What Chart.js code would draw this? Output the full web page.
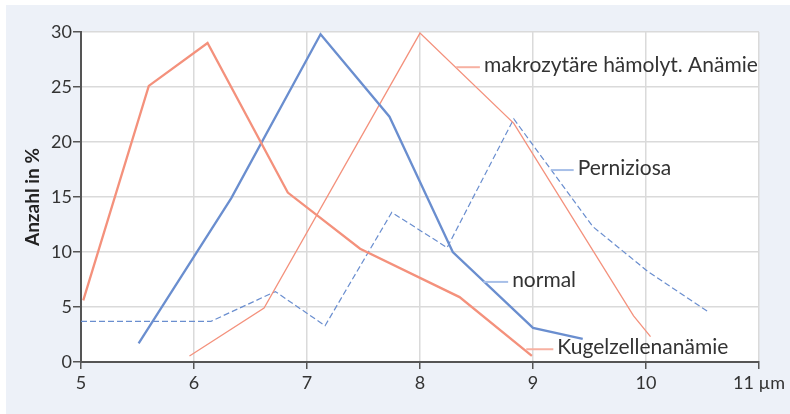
<!DOCTYPE html>
<html>
<head>
<meta charset="utf-8">
<script src="https://cdn.jsdelivr.net/npm/chart.js@4.4.1/dist/chart.umd.min.js"></script>
<style>
body{margin:0;background:#fff;}
#box{position:absolute;left:6px;top:5px;width:784px;height:409px;background:#edf1f8;}
</style>
</head>
<body>
<div id="box"><canvas id="sizeChart" width="784" height="409"></canvas></div>
<script>
// Erythrozyten-Durchmesser (µm) gegen Anzahl in %
const kugelX = [5.02, 5.6, 6.12, 6.83, 7.47, 8.35, 8.99];
const kugelY = [5.6, 25.1, 29.0, 15.4, 10.3, 5.9, 0.55];

const normalX = [5.51, 6.33, 7.12, 7.73, 8.29, 9.0, 9.44];
const normalY = [1.7, 14.9, 29.8, 22.3, 10.0, 3.1, 2.1];

const makroX = [5.96, 6.62, 8.0, 8.83, 9.89, 10.04];
const makroY = [0.55, 4.9, 29.9, 21.7, 4.2, 2.3];

const pernizX = [5.0, 6.15, 6.72, 7.16, 7.75, 8.24, 8.83, 9.53, 10.02, 10.56];
const pernizY = [3.7, 3.7, 6.4, 3.3, 13.6, 10.4, 22.1, 12.3, 8.2, 4.5];

const xTicks = [5, 6, 7, 8, 9, 10, 11];
const yTicks = [0, 5, 10, 15, 20, 25, 30];

const salmon = "#f4917c";
const blue = "#6a8ecf";

function pts(xs, ys){
  return xs.map((x, i) => ({x: x, y: ys[i]}));
}

// Beschriftungen mit Hinweislinie (in Datenkoordinaten)
const seriesLabels = [
  {text: "makrozytäre hämolyt. Anämie", x0: 8.32, x1: 8.53, y: 26.8, color: "#f7b1a2"},
  {text: "Perniziosa", x0: 9.16, x1: 9.36, y: 17.45, color: "#a7bfe8"},
  {text: "normal", x0: 8.56, x1: 8.78, y: 7.28, color: "#a7bfe8"},
  {text: "Kugelzellenanämie", x0: 8.94, x1: 9.18, y: 1.16, color: "#f7b1a2"}
];

const plotBg = {
  id: "plotBg",
  beforeDraw(chart){
    const a = chart.chartArea;
    const ctx = chart.ctx;
    ctx.save();
    ctx.fillStyle = "#fff";
    ctx.fillRect(a.left, a.top, a.right - a.left, a.bottom - a.top);
    ctx.restore();
  }
};

const labelPlugin = {
  id: "labelPlugin",
  afterDatasetsDraw(chart){
    const ctx = chart.ctx;
    const sx = chart.scales.x, sy = chart.scales.y;
    ctx.save();
    seriesLabels.forEach(l => {
      const px0 = sx.getPixelForValue(l.x0);
      const px1 = sx.getPixelForValue(l.x1);
      const py = sy.getPixelForValue(l.y);
      ctx.strokeStyle = l.color;
      ctx.lineWidth = 2;
      ctx.beginPath();
      ctx.moveTo(px0, py);
      ctx.lineTo(px1, py);
      ctx.stroke();
      ctx.fillStyle = "#333";
      ctx.font = "21px Lato";
      ctx.textBaseline = "middle";
      ctx.textAlign = "left";
      ctx.fillText(l.text, px1 + 4, py - 2);
    });
    ctx.restore();
  }
};

const ctx = document.getElementById("sizeChart");

new Chart(ctx, {
  type: "scatter",
  data: {
    datasets: [
      {label: "Kugelzellenanämie", data: pts(kugelX, kugelY), borderColor: salmon, borderWidth: 2.3},
      {label: "normal", data: pts(normalX, normalY), borderColor: blue, borderWidth: 2.3},
      {label: "makrozytäre hämolyt. Anämie", data: pts(makroX, makroY), borderColor: salmon, borderWidth: 1.3},
      {label: "Perniziosa", data: pts(pernizX, pernizY), borderColor: blue, borderWidth: 1.2, borderDash: [6, 3]}
    ].map(d => Object.assign(d, {showLine: true, pointRadius: 0, fill: false, tension: 0}))
  },
  options: {
    responsive: false,
    animation: false,
    layout: {padding: {top: 27, right: 31, left: 0, bottom: 0}},
    plugins: {legend: {display: false}, tooltip: {enabled: false}},
    scales: {
      x: {
        type: "linear",
        min: 5,
        max: 11,
        afterBuildTicks: s => { s.ticks = xTicks.map(v => ({value: v})); },
        afterFit: s => { s.height = 52; },
        ticks: {
          color: "#333",
          font: {family: "Lato", size: 18},
          padding: 3,
          callback: v => v === 11 ? "11 µm" : v
        },
        grid: {color: "#dadada", lineWidth: 1.5, tickColor: "#555", tickLength: 7},
        border: {color: "#555", width: 2}
      },
      y: {
        min: 0,
        max: 30,
        afterBuildTicks: s => { s.ticks = yTicks.map(v => ({value: v})); },
        afterFit: s => { s.width = 75; },
        ticks: {
          color: "#333",
          font: {family: "Lato", size: 18},
          padding: 1
        },
        title: {
          display: true,
          text: "Anzahl in %",
          color: "#222",
          font: {family: "Lato", size: 19, weight: "bold"},
          padding: {top: 15, bottom: 0}
        },
        grid: {color: "#dadada", lineWidth: 1.5, tickColor: "#555", tickLength: 8},
        border: {color: "#555", width: 2}
      }
    }
  },
  plugins: [plotBg, labelPlugin]
});
</script>
</body>
</html>
